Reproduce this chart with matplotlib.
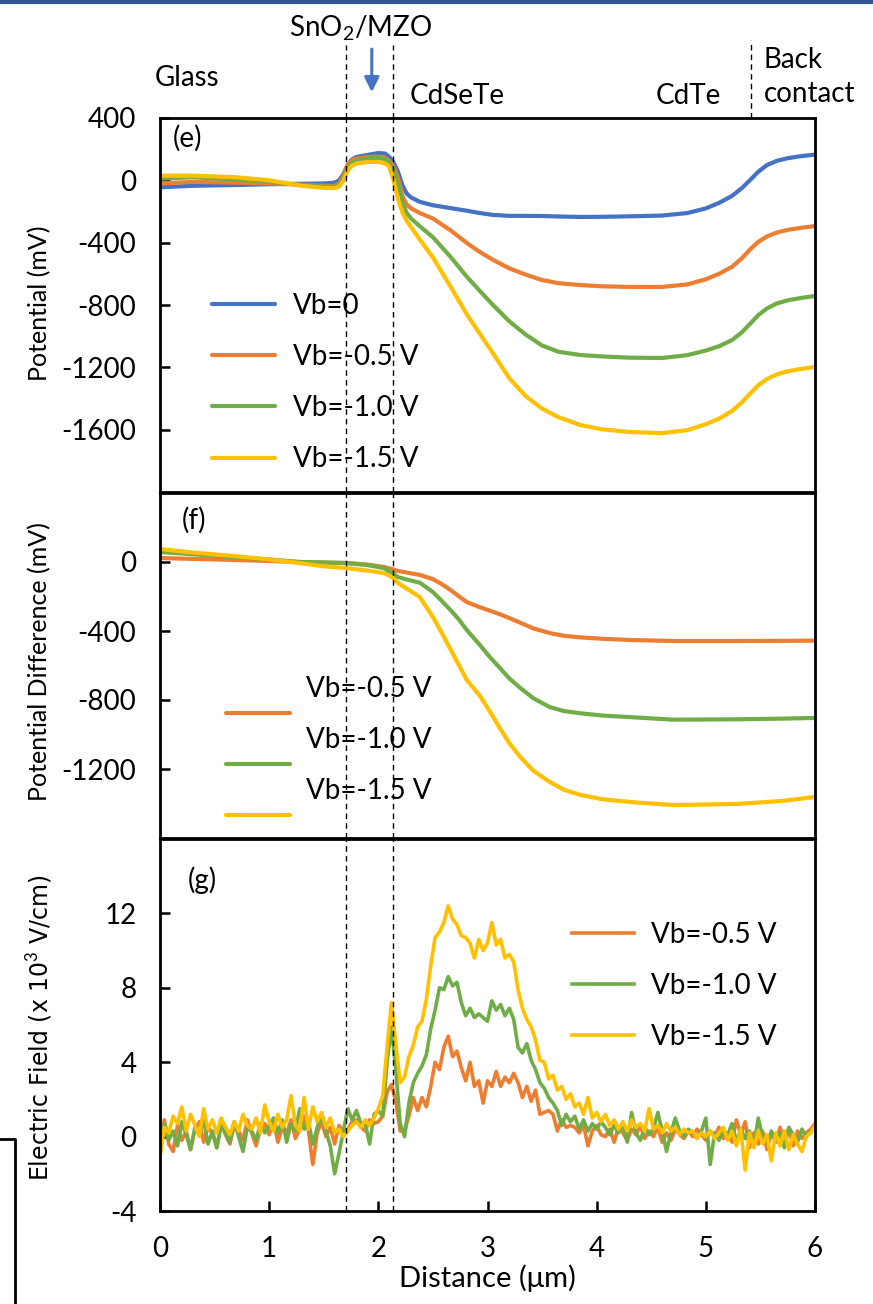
import numpy as np
import matplotlib
matplotlib.use("Agg")
import matplotlib.pyplot as plt
from matplotlib.legend_handler import HandlerLine2D
from matplotlib.lines import Line2D

plt.rcParams["font.family"] = ["Lato", "DejaVu Sans"]
plt.rcParams["axes.unicode_minus"] = False
plt.rcParams["mathtext.fontset"] = "custom"
plt.rcParams["mathtext.rm"] = "Lato"

# ---- data ----
LABELS = ["Vb=0", "Vb=-0.5 V", "Vb=-1.0 V", "Vb=-1.5 V"]
COLORS = ["#4472C4", "#ED7D31", "#70AD47", "#FFC000"]
INTERFACES = [1.70, 2.13]      # SnO2/MZO layer edges (um)
BACK_CONTACT = 5.41

# (e) potential, mV
x_e = [0, 0.3, 0.7, 1.0, 1.3, 1.5, 1.6, 1.64, 1.68, 1.72, 1.76, 1.8, 1.9, 2.0, 2.06, 2.1,
       2.14, 2.18, 2.22, 2.26, 2.3, 2.38, 2.5, 2.66, 2.81, 2.93, 3.05, 3.2, 3.35, 3.5,
       3.65, 3.85, 4.05, 4.3, 4.6, 4.83, 5.0, 5.12, 5.24, 5.33, 5.41, 5.48, 5.56, 5.65,
       5.75, 5.87, 6.0]
pot_0 = [-45, -35, -30, -25, -22, -20, -15, 0, 40, 100, 135, 150, 163, 175, 172, 150,
         115, 55, -30, -85, -110, -138, -160, -178, -195, -210, -222, -228, -228, -229,
         -232, -235, -234, -231, -226, -210, -180, -145, -100, -50, 5, 55, 98, 125,
         142, 155, 165]
pot_05 = [-20, -10, -15, -20, -28, -35, -36, -20, 30, 105, 130, 140, 150, 152, 145, 125,
          85, 15, -100, -155, -180, -210, -245, -320, -402, -460, -510, -565, -605, -640,
          -660, -672, -680, -684, -684, -668, -635, -600, -555, -500, -440, -395, -360, -335,
          -318, -305, -293]
pot_10 = [10, 20, 5, -10, -30, -40, -43, -30, 15, 85, 115, 128, 140, 143, 135, 110,
          60, -20, -140, -210, -245, -295, -365, -490, -618, -710, -800, -905, -990, -1060,
          -1100, -1121, -1130, -1138, -1140, -1122, -1092, -1065, -1025, -975, -917, -865, -822, -790,
          -770, -755, -742]
pot_15 = [30, 30, 20, 0, -35, -48, -50, -40, -5, 65, 95, 108, 118, 118, 110, 88,
          0, -120, -205, -260, -300, -380, -495, -680, -860, -985, -1110, -1270, -1385, -1465,
          -1520, -1570, -1598, -1615, -1622, -1603, -1565, -1530, -1480, -1425, -1365, -1315, -1275, -1245,
          -1225, -1210, -1198]

# (f) potential difference, mV
x_f = [0, 0.3, 0.67, 1.0, 1.28, 1.5, 1.71, 1.9, 2.05, 2.12, 2.18, 2.25, 2.38, 2.5, 2.58,
       2.66, 2.74, 2.81, 2.93, 3.02, 3.11, 3.2, 3.3, 3.42, 3.57, 3.7, 3.85, 4.05, 4.3,
       4.7, 5.28, 5.7, 6.0]
dif_05 = [23, 18, 12, 6, 0, -3, -6, -15, -29, -40, -52, -60, -75, -99, -128,
          -162, -200, -232, -262, -282, -302, -325, -352, -385, -412, -428, -437, -445, -452,
          -458, -458, -457, -456]
dif_10 = [58, 45, 29, 15, 0, -3, -6, -18, -35, -60, -87, -100, -120, -174, -225,
          -278, -335, -394, -481, -550, -612, -675, -730, -790, -841, -864, -877, -890, -899,
          -914, -912, -908, -904]
dif_15 = [75, 55, 35, 15, -6, -25, -35, -50, -64, -85, -122, -150, -203, -319, -410,
          -505, -600, -684, -775, -865, -960, -1050, -1130, -1210, -1275, -1320, -1350, -1375, -1391,
          -1409, -1403, -1385, -1362]

# (g) electric field, x10^3 V/cm, sampled every 0.04 um from 0 to 6
x_g = np.round(np.arange(151) * 0.04, 2)
ef_05 = [-0.6, 0.9, -0.4, -0.8, 0.6, -0.2, 0.3, -0.7, 0.4, 0.8, -0.3, 0.5, 0.2, -0.6, 0.7, 0.1, -0.4, 0.6, 0.3, -0.2, 0.9, 0.2, -0.5, 0.4, 0.7,
         0.1, 0.8, -0.3, 0.5, 0.2, 0.9, -0.1, 0.4, 1.1, 0.3, -1.5, 0.2, 0.8, 0.0, 0.5, -0.4, 0.6, 0.3, 0.4, 0.8, 0.9, 0.5, 0.3, 0.9, 0.7,
         0.8, 1.1, 2.4, 2.8, 1.9, 0.3, 0.3, 1.1, 2.1, 1.4, 2.1, 1.6, 2.7, 4.0, 3.6, 4.8, 5.4, 4.3, 4.6, 3.7, 3.0, 4.0, 2.7, 3.0, 1.8,
         3.0, 2.7, 3.5, 2.7, 3.2, 2.9, 3.4, 2.9, 2.1, 2.7, 1.9, 2.5, 1.2, 1.3, 1.4, 1.2, 0.3, 0.9, 0.5, 0.6, 0.5, 0.2, 0.6, -0.5, 0.3,
         0.6, 0.1, 0.0, 0.4, -0.3, 0.5, 0.2, -0.2, 0.4, 0.1, 0.6, -0.1, 0.3, 0.0, 0.5, -0.3, 0.2, -0.2, 0.4, 0.1, -0.1, 0.3, 0.0, 0.4, 0.1,
         -0.2, 0.3, 0.0, 0.5, -0.1, 0.2, -0.3, 0.9, 0.1, 0.8, -0.6, 0.2, -0.4, 0.3, -0.7, 0.2, -0.3, 0.5, -0.2, 0.4, -0.5, 0.3, -0.1, 0.2, 0.4, 0.7]
ef_10 = [-0.9, 0.7, -0.2, 0.3, -0.5, 0.8, 0.1, -0.7, 0.5, 0.2, 0.9, -0.4, 0.3, -0.6, 0.6, 0.2, -0.3, 0.8, 0.0, -0.8, 0.5, 0.3, -0.2, 0.7, 0.2,
         0.6, 1.0, 0.2, 0.9, -0.3, 0.7, 0.3, 1.5, 0.4, 0.8, -0.4, 0.5, 1.2, 0.3, -0.5, -2.0, -0.9, 0.3, 1.5, 0.9, 1.4, 0.7, 0.7, -0.4, 1.2,
         1.4, 1.1, 4.0, 5.9, 3.6, 0.7, 0.0, 1.8, 2.9, 3.4, 3.8, 4.4, 5.8, 6.8, 8.0, 7.9, 8.6, 8.1, 8.3, 7.2, 6.5, 6.9, 6.4, 6.6, 6.4,
         6.2, 7.3, 6.8, 7.1, 6.5, 6.9, 6.3, 4.8, 4.5, 5.0, 4.1, 3.6, 2.9, 2.6, 2.1, 1.8, 1.4, 0.6, 1.2, 0.8, 1.1, 0.4, 0.9, 0.3, 0.7,
         0.4, 0.8, 0.5, 0.1, 0.6, 0.2, 0.7, -0.3, 1.3, 0.2, -0.2, 0.5, 0.1, 0.4, 1.3, 0.3, -0.8, 0.2, 1.0, 0.3, 0.0, 0.4, 0.2, -0.1, 0.3,
         1.0, -1.5, 0.2, -0.2, 0.3, 0.1, 0.7, -0.3, 0.4, -0.1, 0.3, -0.5, 1.0, 0.0, -0.4, 0.3, -0.2, 0.2, -0.6, 0.5, 0.1, -0.3, 0.4, 0.0, 0.3, 0.5]
ef_15 = [-1.1, 0.5, 0.2, 1.1, 0.7, 1.6, 0.3, 1.2, 0.6, 0.0, 1.5, 0.4, 0.9, 0.2, 1.0, 0.5, 0.1, 0.8, 0.3, 1.2, 0.6, 0.4, 1.0, 0.2, 1.7,
         0.8, 0.3, 1.2, 0.5, 0.9, 2.2, 0.6, 0.3, 2.1, 0.4, 1.6, 0.8, 1.3, 0.5, 1.0, 0.2, 0.4, 0.0, 0.3, 0.6, 0.8, 0.5, 0.9, 0.6, 1.0,
         1.5, 2.2, 4.8, 7.2, 5.0, 2.9, 3.2, 4.3, 4.9, 5.9, 6.2, 7.4, 9.2, 10.7, 11.0, 11.5, 12.4, 11.7, 11.4, 10.8, 10.7, 10.4, 9.6, 10.6, 10.0,
         10.4, 11.5, 10.3, 10.6, 9.6, 9.8, 9.4, 7.9, 6.9, 6.3, 5.9, 5.2, 4.1, 4.0, 3.1, 3.3, 2.5, 2.7, 2.0, 2.3, 1.6, 1.8, 1.2, 2.1, 1.0,
         1.3, 0.8, 1.2, 0.6, 0.9, 0.4, 0.8, 0.3, 0.9, 0.5, 0.7, 0.3, 1.5, 0.4, 0.6, 0.2, 0.7, 0.3, 0.5, 0.1, 0.4, 0.2, 0.3, -0.1, 0.2,
         0.0, 0.3, -0.1, 0.2, 0.5, -0.2, 0.3, -0.5, 0.4, -1.8, 0.2, -0.6, 0.3, -0.4, 0.1, -1.3, 0.2, -0.5, 0.3, -0.7, 0.1, -0.4, -0.8, 0.0, 0.2, 0.6]

# ---- figure layout (pixel boxes of the original) ----
W, H = 873, 1304
FS = 20
fig = plt.figure(figsize=(W / 100, H / 100), dpi=100)


def box(top, bottom, left=160, right=815):
    return [left / W, 1 - bottom / H, (right - left) / W, (bottom - top) / H]


ax_e = fig.add_axes(box(118, 492))
ax_f = fig.add_axes(box(493, 838))
ax_g = fig.add_axes(box(839, 1211))

DASH = dict(color="black", lw=1.0, ls=(0, (4, 3)), zorder=5)

for ax in (ax_e, ax_f, ax_g):
    ax.set_xlim(0, 6)
    for s in ax.spines.values():
        s.set_linewidth(2)
    ax.tick_params(axis="y", direction="in", length=7, width=1.8, labelsize=FS, pad=17)
    for x in INTERFACES:
        ax.axvline(x, **DASH)

# (e)
for y, c, lab in zip([pot_0, pot_05, pot_10, pot_15], COLORS, LABELS):
    ax_e.plot(x_e, y, color=c, lw=3.0, label=lab, solid_capstyle="round")
ax_e.set_ylim(-2000, 400)
ax_e.set_yticks([-1600, -1200, -800, -400, 0, 400])
ax_e.tick_params(axis="x", bottom=False, labelbottom=False)
ax_e.text(0.02, 0.945, "(e)", transform=ax_e.transAxes, fontsize=FS, va="center")
ax_e.legend(loc="upper left", bbox_to_anchor=(0.079, 0.533), frameon=False, fontsize=FS,
            handlelength=2.27, handletextpad=0.65, labelspacing=0.91, borderpad=0, borderaxespad=0)
for x in INTERFACES:
    ax_e.plot([x, x], [400, 870], clip_on=False, **DASH)
ax_e.plot([BACK_CONTACT, BACK_CONTACT], [400, 900], clip_on=False, **DASH)
ax_e.annotate("", xy=(1.94, 548), xytext=(1.94, 860), annotation_clip=False,
              arrowprops=dict(arrowstyle="-|>", color="#4472C4", lw=2.2, mutation_scale=22))
fig.text(40 / W, 1 - 303 / H, "Potential (mV)", rotation=90, ha="center", va="center", fontsize=18)


# (f) legend: line sits below its label, as in the source
class LowLine(HandlerLine2D):
    def create_artists(self, legend, orig_handle, xdescent, ydescent, width, height, fontsize, trans):
        return super().create_artists(legend, orig_handle, xdescent, ydescent + 1.85 * fontsize,
                                      width, height, fontsize, trans)


f_lines = []
for y, c, lab in zip([dif_05, dif_10, dif_15], COLORS[1:], LABELS[1:]):
    f_lines += ax_f.plot(x_f, y, color=c, lw=3.0, label=lab, solid_capstyle="round")
ax_f.set_ylim(-1600, 400)
ax_f.set_yticks([-1200, -800, -400, 0])
ax_f.tick_params(axis="x", bottom=False, labelbottom=False)
ax_f.text(0.033, 0.92, "(f)", transform=ax_f.transAxes, fontsize=FS, va="center")
ax_f.legend(handles=f_lines, handler_map={l: LowLine() for l in f_lines},
            loc="upper left", bbox_to_anchor=(0.101, 0.469), frameon=False, fontsize=FS,
            handlelength=2.3, handletextpad=0.58, labelspacing=0.89, borderpad=0, borderaxespad=0)
fig.text(40 / W, 1 - 662 / H, "Potential Difference (mV)", rotation=90, ha="center", va="center",
         fontsize=18)

# (g)
for y, c, lab in zip([ef_05, ef_10, ef_15], COLORS[1:], LABELS[1:]):
    ax_g.plot(x_g, y, color=c, lw=2.6, label=lab)
ax_g.set_ylim(-4, 16)
ax_g.set_yticks([-4, 0, 4, 8, 12])
ax_g.set_xticks(range(7))
ax_g.tick_params(axis="x", direction="in", length=7, width=1.8, labelsize=FS, pad=18)
ax_g.text(0.043, 0.89, "(g)", transform=ax_g.transAxes, fontsize=FS, va="center")
ax_g.legend(loc="upper left", bbox_to_anchor=(0.629, 0.778), frameon=False, fontsize=FS,
            handlelength=2.23, handletextpad=0.6, labelspacing=0.9, borderpad=0, borderaxespad=0)
ax_g.set_xlabel("Distance (μm)", fontsize=21, labelpad=2)
fig.text(40 / W, 1 - 1028 / H, "Electric Field (x 10$^3$ V/cm)", rotation=90, ha="center",
         va="center", fontsize=17, family="DejaVu Sans")

# layer names above the plot
fig.text(360 / W, 1 - 28 / H, "SnO$_2$/MZO", ha="center", va="center", fontsize=FS)
fig.text(155 / W, 1 - 78 / H, "Glass", ha="left", va="center", fontsize=FS)
fig.text(410 / W, 1 - 96 / H, "CdSeTe", ha="left", va="center", fontsize=FS)
fig.text(656 / W, 1 - 96 / H, "CdTe", ha="left", va="center", fontsize=FS)
fig.text(764 / W, 1 - 77 / H, "Back\ncontact", ha="left", va="center", fontsize=FS, linespacing=1.35)

# frame remnants of the source slide
fig.add_artist(Line2D([0, 1], [1 - 1.5 / H] * 2, color="#2F5597", lw=3))
fig.add_artist(Line2D([0, 15 / W, 15 / W], [1 - 1139 / H, 1 - 1139 / H, 0], color="black", lw=2))

fig.savefig("out.png", dpi=100)
